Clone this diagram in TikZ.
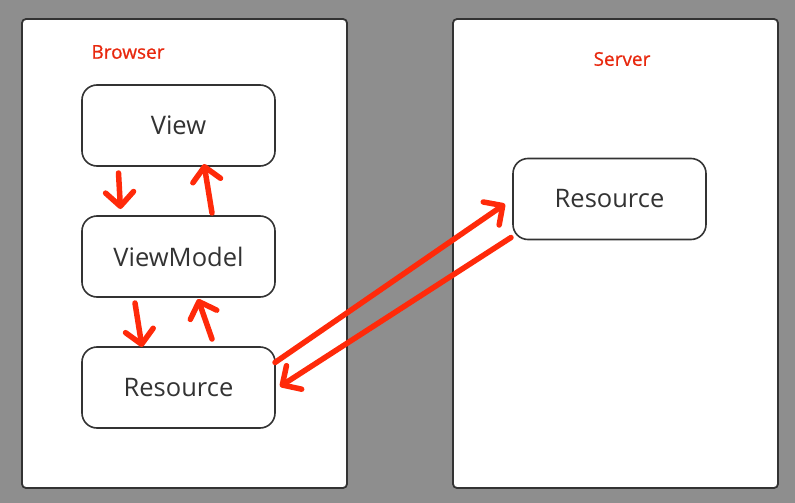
\documentclass[tikz,border=0pt]{standalone}
\usepackage{fontspec}
\setmainfont{Open Sans}
\newfontfamily\tagfont[FakeBold=0.7]{Open Sans}
\usepackage{tikz}
\usetikzlibrary{arrows.meta,chains,positioning,scopes}
\definecolor{bggrey}{HTML}{8E8E8E}
\definecolor{edgegrey}{HTML}{333333}
\definecolor{arrowred}{HTML}{FF2A0A}
\definecolor{labelred}{HTML}{E8280E}

\begin{document}
\begin{tikzpicture}[x=1pt,y=-1pt,
    panel/.style={draw=edgegrey,fill=white,line width=1.8pt,rounded corners=4pt},
    box/.style={draw=edgegrey,line width=1.6pt,rounded corners=15pt,outer sep=0pt,
      minimum width=193pt,minimum height=81pt,font=\fontsize{25.5}{28}\selectfont,
      text=edgegrey},
    tag/.style={text=labelred,font=\tagfont\fontsize{19}{22}\selectfont},
    flow/.style={draw=arrowred,line width=5.5pt,line cap=round,
      -{Straight Barb[length=14pt,width=28pt,line cap=round,line join=round]}}]
  \fill[bggrey] (0,0) rectangle (795,503);
  \useasboundingbox (0,0) rectangle (795,503);
  \draw[panel] (22,19) rectangle (347,488);
  \draw[panel] (453,19) rectangle (778,488);
  \node[tag] (browsertag) at (128,52) {Browser};
  \node[tag] (servertag) at (622,59) {Server};
  {[start chain=going below,node distance=50pt]
     \node[on chain,box] (view) at (178.5,125.5) {View};
     \node[on chain,box] (vm) {ViewModel};
     \node[on chain,box] (res) {Resource};
  }
  \node[box] (srv) at (609.5,199) {Resource};
  \draw[flow] ([xshift=-60pt,yshift=-7pt]view.south) -- ([xshift=-58pt,yshift=7pt]vm.north);
  \draw[flow] ([xshift=33.5pt,yshift=3pt]vm.north) -- ([xshift=25.5pt,yshift=2pt]view.south);
  \draw[flow] ([xshift=-43.5pt,yshift=-6pt]vm.south) -- ([xshift=-36.5pt]res.north);
  \draw[flow] ([xshift=33.5pt,yshift=8pt]res.north) -- ([xshift=19.5pt,yshift=-2pt]vm.south);
  \draw[flow] ([yshift=25pt]res.east) -- ([xshift=-8pt,yshift=-5pt]srv.west);
  \draw[flow] ([xshift=-2pt,yshift=2pt]srv.south west) -- ([xshift=5pt,yshift=1pt]res.east);
\end{tikzpicture}
\end{document}
